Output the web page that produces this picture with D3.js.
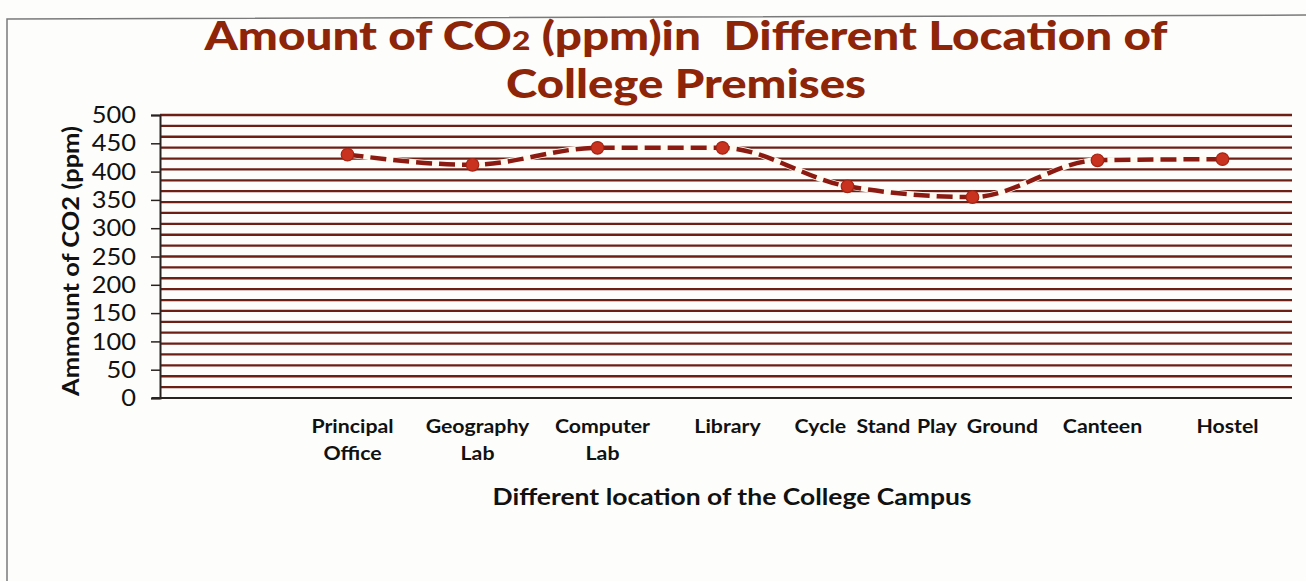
<!DOCTYPE html>
<html>
<head>
<meta charset="utf-8">
<script src="https://cdn.jsdelivr.net/npm/d3@7"></script>
<style>
  html, body { margin: 0; padding: 0; background: #fdfdfc; }
  svg { display: block; }
</style>
</head>
<body>
<svg id="chart" width="1306" height="581"></svg>
<script>
// ---- data ----
const categories = ["", "Principal Office", "Geography Lab", "Computer Lab", "Library", "Cycle Stand", "Play Ground", "Canteen", "Hostel"];
const labelLines = [[""], ["Principal", "Office"], ["Geography", "Lab"], ["Computer", "Lab"], ["Library"], ["Cycle  Stand"], ["Play  Ground"], ["Canteen"], ["Hostel"]];
const co2Values = [null, 430, 412, 442, 442, 374, 355, 420, 422];
const yTicks = [0, 50, 100, 150, 200, 250, 300, 350, 400, 450, 500];
const gridCount = 26; // number of ruled intervals between 0 and 500
const titleLine1 = ["Amount of CO", "2", " (ppm)in  Different Location of"];
const titleLine2 = "College Premises";
const yTitle = "Ammount of CO2 (ppm)";
const xTitle = "Different location of the College Campus";

// ---- layout ----
const svg = d3.select("#chart");
const mL = 160, mR = 1285, mT = 115, mB = 398, gridEnd = 1292;
const FONT = "Lato, 'Open Sans', sans-serif";

// widen a text element horizontally by factor k (reference glyphs are wider)
function stretch(sel, k) {
  sel.each(function () {
    const w = this.getComputedTextLength();
    if (w > 0) d3.select(this).attr("textLength", w * k).attr("lengthAdjust", "spacingAndGlyphs");
  });
}

svg.append("rect").attr("x", 0).attr("y", 0).attr("width", 1306).attr("height", 581).attr("fill", "#fdfdfc");
svg.append("path")
  .attr("d", "M7,590 L7,19 L1320,15")
  .attr("fill", "none").attr("stroke", "#7a7a7a").attr("stroke-width", 1.5);

const x = d3.scaleBand().domain(categories.map((c, i) => i)).range([mL, mR]).padding(0);
const y = d3.scaleLinear().domain([0, 500]).range([mB, mT]);

// ruled gridlines
const gridVals = d3.range(1, gridCount + 1).map(i => i * 500 / gridCount);
svg.append("g").selectAll("line").data(gridVals).join("line")
  .attr("x1", mL).attr("x2", gridEnd)
  .attr("y1", d => y(d)).attr("y2", d => y(d))
  .attr("stroke", "#6e1f14").attr("stroke-width", 2.3);

// y axis
const yAxis = svg.append("g").attr("transform", `translate(${mL},0)`)
  .call(d3.axisLeft(y).tickValues(yTicks).tickSize(9).tickPadding(15));
yAxis.select(".domain").attr("stroke", "#2a2220").attr("stroke-width", 2);
yAxis.selectAll(".tick line").attr("stroke", "#2a2220").attr("stroke-width", 1.5);
yAxis.selectAll(".tick text")
  .attr("font-family", FONT).attr("font-size", 24).attr("fill", "#111");
stretch(yAxis.selectAll(".tick text"), 1.06);

// x axis
const xAxis = svg.append("g").attr("transform", `translate(0,${mB})`)
  .call(d3.axisBottom(x).tickSize(0).tickFormat(""));
xAxis.select(".domain").attr("stroke", "#2a2220").attr("stroke-width", 2.2)
  .attr("d", `M${mL - 8},0H${gridEnd}`);

// x labels
const xl = svg.append("g");
labelLines.forEach((lines, i) => {
  const cx = x(i) + x.bandwidth() / 2 + 5;
  const t = xl.append("text")
    .attr("x", cx).attr("y", 433)
    .attr("text-anchor", "middle")
    .attr("font-family", FONT)
    .attr("font-weight", "bold").attr("font-size", 19).attr("fill", "#111")
    .attr("style", "white-space:pre");
  lines.forEach((ln, j) => {
    t.append("tspan").attr("x", cx).attr("dy", j === 0 ? 0 : 27).text(ln);
  });
});
stretch(xl.selectAll("tspan"), 1.12);

// series line
const pts = co2Values.map((v, i) => ({ i, v })).filter(d => d.v !== null);
const line = d3.line().x(d => x(d.i) + x.bandwidth() / 2).y(d => y(d.v)).curve(d3.curveMonotoneX);
svg.append("path").datum(pts).attr("d", line)
  .attr("fill", "none").attr("stroke", "#fffaf0").attr("stroke-width", 6);
svg.append("path").datum(pts).attr("d", line)
  .attr("fill", "none").attr("stroke", "#8a1a12").attr("stroke-width", 4.5)
  .attr("stroke-dasharray", "16 7");
svg.append("g").selectAll("circle").data(pts).join("circle")
  .attr("cx", d => x(d.i) + x.bandwidth() / 2).attr("cy", d => y(d.v))
  .attr("r", 6.3)
  .attr("fill", "#c8321e").attr("stroke", "#a52414").attr("stroke-width", 1.2);

// title
const tt = svg.append("text")
  .attr("x", 686).attr("y", 50).attr("text-anchor", "middle")
  .attr("font-family", FONT).attr("font-weight", 900)
  .attr("font-size", 39).attr("fill", "#8e2408").attr("style", "white-space:pre")
  .attr("textLength", 963).attr("lengthAdjust", "spacingAndGlyphs");
tt.append("tspan").text(titleLine1[0]);
tt.append("tspan").attr("font-size", 26).text(titleLine1[1]);
tt.append("tspan").text(titleLine1[2]);
svg.append("text")
  .attr("x", 686).attr("y", 98).attr("text-anchor", "middle")
  .attr("font-family", FONT).attr("font-weight", 900)
  .attr("font-size", 39).attr("fill", "#8e2408")
  .attr("textLength", 360).attr("lengthAdjust", "spacingAndGlyphs").text(titleLine2);

// axis titles
svg.append("text")
  .attr("transform", "translate(79,261) rotate(-90)")
  .attr("text-anchor", "middle")
  .attr("font-family", FONT).attr("font-weight", "bold")
  .attr("font-size", 22).attr("fill", "#111")
  .attr("textLength", 270).attr("lengthAdjust", "spacingAndGlyphs").text(yTitle);
svg.append("text")
  .attr("x", 732).attr("y", 505).attr("text-anchor", "middle")
  .attr("font-family", FONT).attr("font-weight", "bold")
  .attr("font-size", 23).attr("fill", "#111")
  .attr("textLength", 479).attr("lengthAdjust", "spacingAndGlyphs").text(xTitle);
</script>
</body>
</html>
